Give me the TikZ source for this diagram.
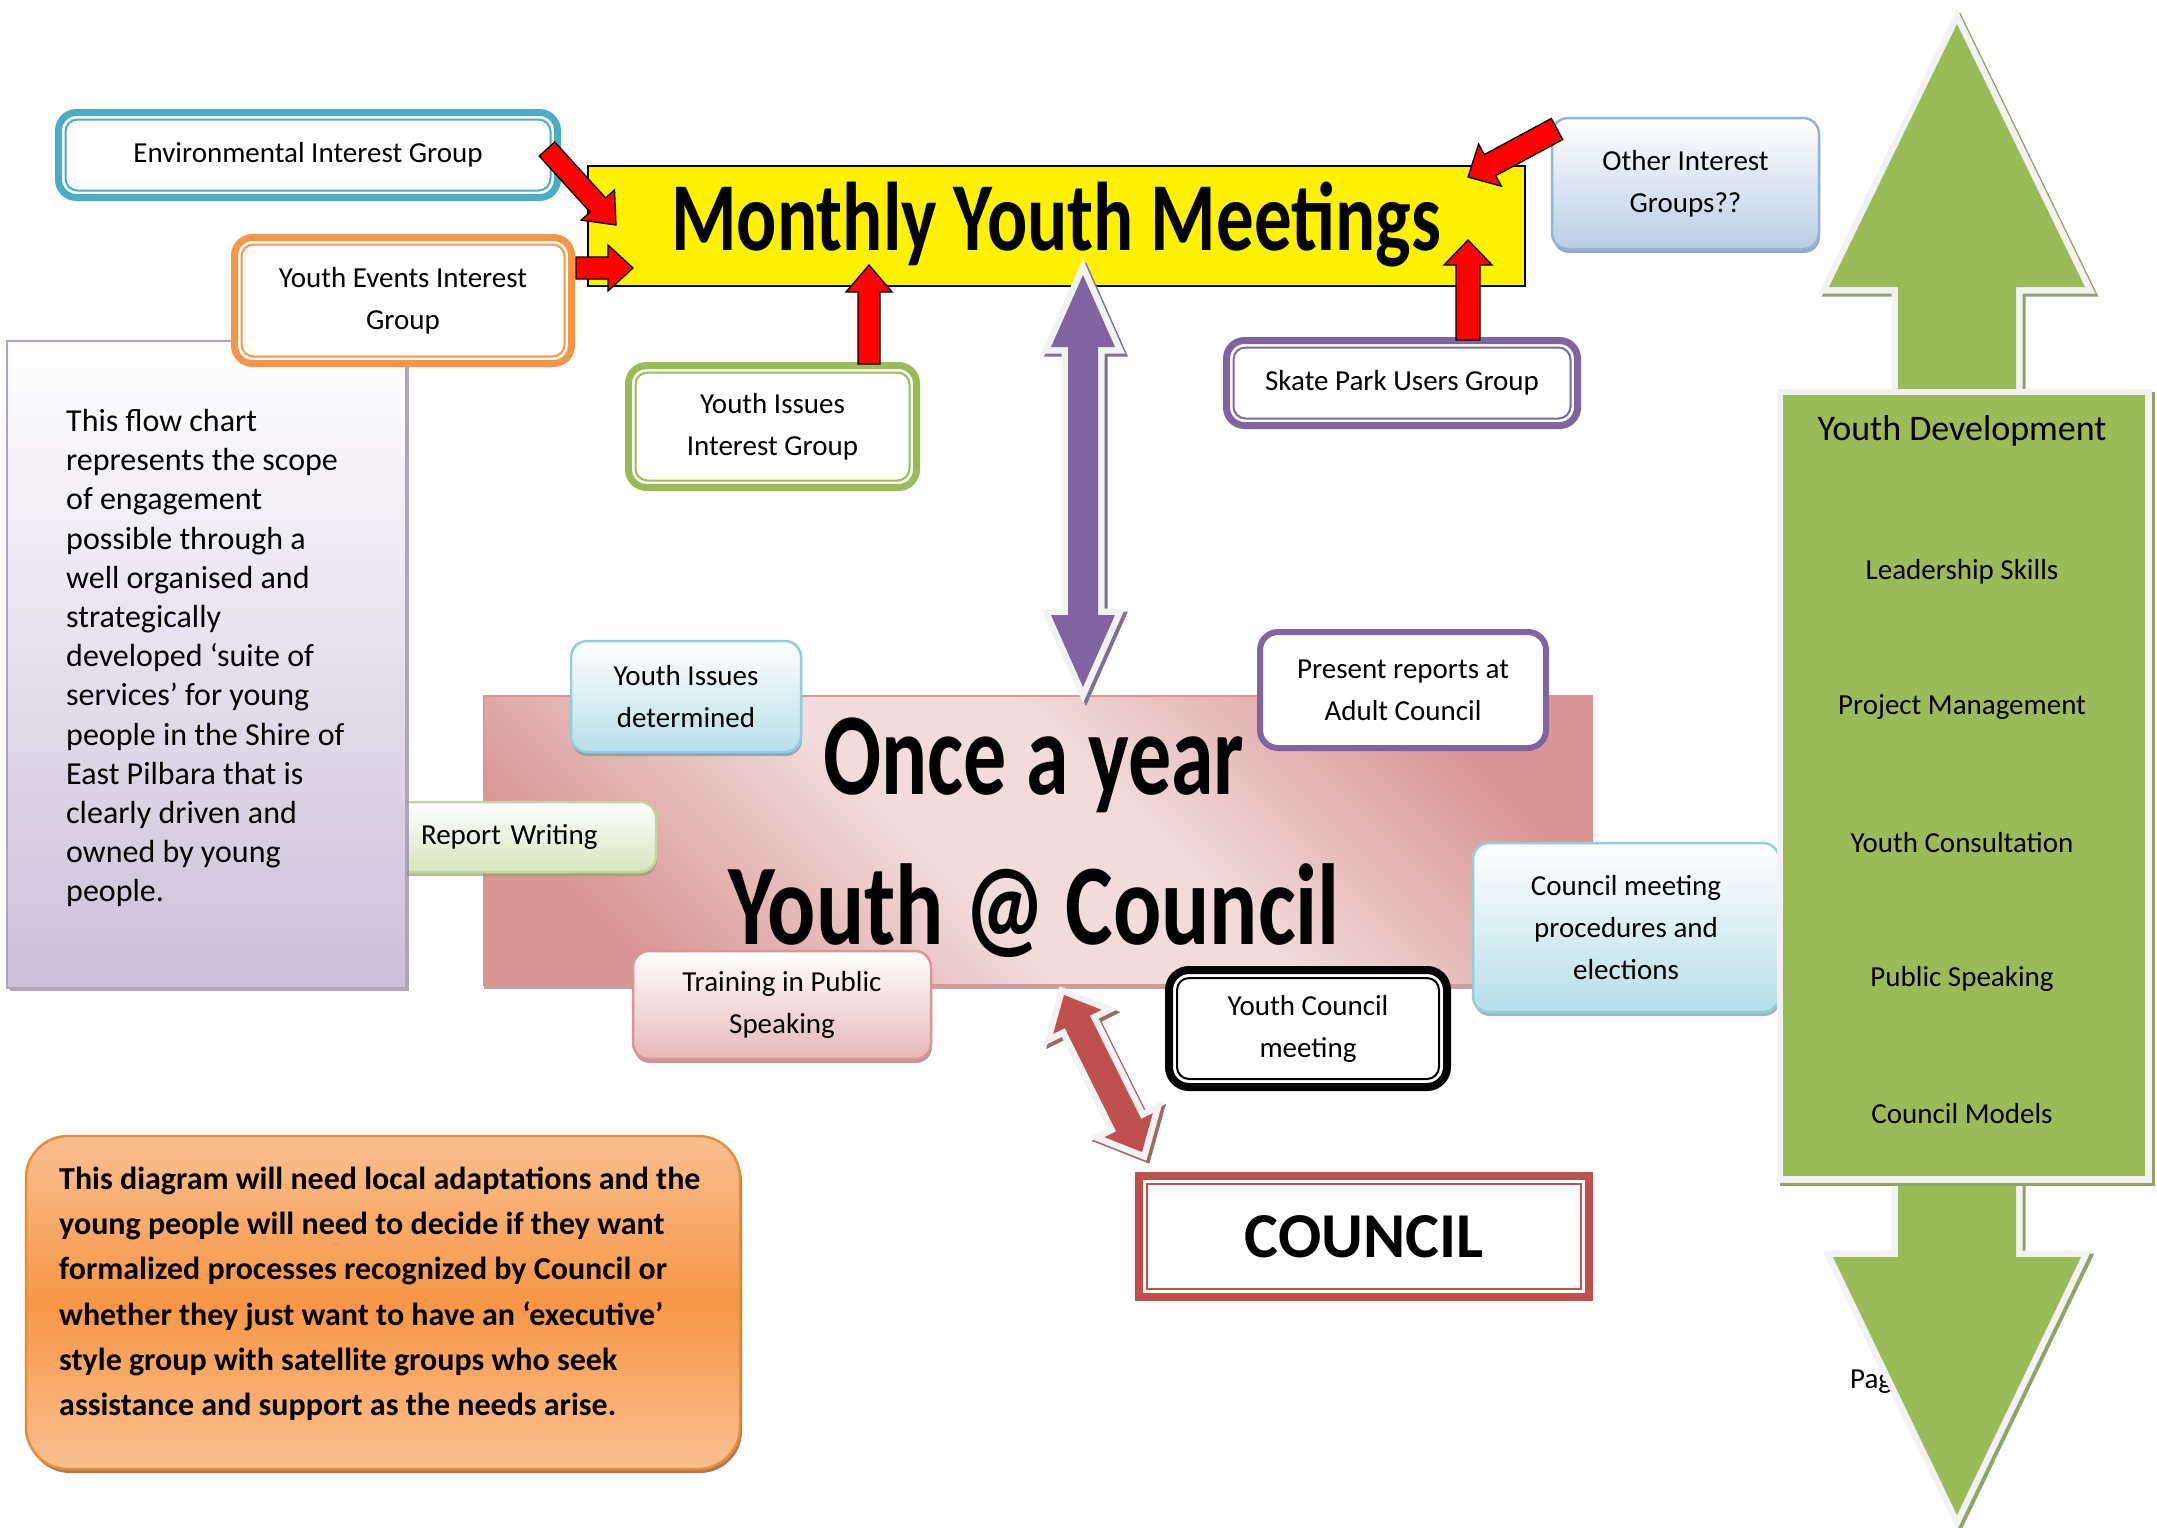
\documentclass[tikz,border=0pt]{standalone}
\usepackage{fontspec}
\setmainfont{Carlito}
\usetikzlibrary{calc,shadows}

\definecolor{envblue}{HTML}{4BACC6}
\definecolor{evorange}{HTML}{F79646}
\definecolor{issgreen}{HTML}{9BBB59}
\definecolor{skpurple}{HTML}{8064A2}
\definecolor{otherEdge}{HTML}{95B3D7}
\definecolor{otherFill}{HTML}{B9CDE5}
\definecolor{aquaEdge}{HTML}{92CDDC}
\definecolor{aquaFill}{HTML}{B7DEE8}
\definecolor{limeEdge}{HTML}{C3D69B}
\definecolor{limeFill}{HTML}{D7E4BD}
\definecolor{roseEdge}{HTML}{D99694}
\definecolor{roseFill}{HTML}{E6B9B8}
\definecolor{lilacEdge}{HTML}{B2A1C7}
\definecolor{lilacFill}{HTML}{CCC0DA}
\definecolor{pinkLight}{HTML}{F2DCDB}
\definecolor{pinkDark}{HTML}{D99694}
\definecolor{councilRed}{HTML}{C0504D}
\definecolor{noteLight}{HTML}{FAC090}
\definecolor{noteDark}{HTML}{F79646}
\definecolor{noteEdge}{HTML}{E98B3C}
\definecolor{outlineGrey}{HTML}{F2F2F2}
\definecolor{devGreen}{HTML}{9BBB59}

\pgfdeclarehorizontalshading{pinkband}{100bp}{color(0bp)=(pinkDark); color(24bp)=(pinkDark); color(44bp)=(pinkLight); color(56bp)=(pinkLight); color(76bp)=(pinkDark); color(100bp)=(pinkDark)}

% single block arrow: style, tail, tip, shaft half width, head half width, head length
\newcommand\blockarrow[6]{%
  \coordinate (ba-h) at ($(#3)!#6!(#2)$);
  \path[#1] ($(#2)!#4!90:(#3)$) -- ($(ba-h)!#4!90:(#3)$) -- ($(ba-h)!#5!90:(#3)$)
    -- (#3) -- ($(ba-h)!#5!-90:(#3)$) -- ($(ba-h)!#4!-90:(#3)$) -- ($(#2)!#4!-90:(#3)$) -- cycle;
}
% double block arrow: style, tip A, tip B, shaft half width, head half width, head length
\newcommand\dblarrow[6]{%
  \coordinate (da-a) at ($(#2)!#6!(#3)$);
  \coordinate (da-b) at ($(#3)!#6!(#2)$);
  \path[#1] (#2) -- ($(da-a)!#5!90:(#3)$) -- ($(da-a)!#4!90:(#3)$) -- ($(da-b)!#4!-90:(#2)$)
    -- ($(da-b)!#5!-90:(#2)$) -- (#3) -- ($(da-b)!#5!90:(#2)$) -- ($(da-b)!#4!90:(#2)$)
    -- ($(da-a)!#4!-90:(#3)$) -- ($(da-a)!#5!-90:(#3)$) -- cycle;
}
% thin inner line of a thick-thin frame
\newcommand\innerring[4]{%
  \draw[#2, line width=2pt, rounded corners=#3] ([shift={(#4,#4)}]#1.north west) rectangle ([shift={(-#4,-#4)}]#1.south east);
}

\tikzset{
  base/.style={font=\fontsize{29}{42}\selectfont, align=center, inner sep=0pt, outer sep=0pt},
  ringbox/.style={base, draw=#1, line width=7pt, rounded corners=18pt, fill=white},
  softbox/.style 2 args={base, draw=#1, line width=2.5pt, rounded corners=16pt,
    top color=white, bottom color=#2,
    drop shadow={shadow xshift=1pt, shadow yshift=-4pt, fill=#1!75!black, opacity=.7}},
  redarrow/.style={fill=red, draw=black, line width=1.3pt, line join=miter},
  bigarrow/.style 2 args={fill=#1,
    preaction={fill=#2, draw=#2, line width=13pt, transform canvas={shift={(3pt,-3pt)}}},
    preaction={fill=outlineGrey, draw=outlineGrey, line width=13pt}},
  funky/.style={font=\fontsize{#1}{#1}\selectfont\bfseries, inner sep=0pt},
  devitem/.style={font=\fontsize{29}{34}\selectfont, inner sep=0pt},
}

\begin{document}
\begin{tikzpicture}[x=1pt,y=-1pt]
\useasboundingbox (0,0) rectangle (2157,1527);

% ---- yearly meeting panel
\node[draw=pinkDark, line width=2pt, shading=pinkband, shading angle=45,
  minimum width=1108pt, minimum height=289pt, inner sep=0pt, outer sep=0pt,
  drop shadow={shadow xshift=0pt, shadow yshift=-4pt, fill=pinkDark!70!black, opacity=.6}]
  (yearly) at (1038,840.5) {};
\node[funky=86] (onceText) at (1034,765) {\scalebox{1}[1.36]{Once a year}};
\node[funky=90] (youthAt) at (1034,911) {\scalebox{1}[1.28]{Youth @ Council}};

% ---- scope description panel
\node[softbox={limeEdge}{limeFill}, minimum width=266pt, minimum height=70pt,
  text width=204pt, inner xsep=31pt, align=left] (report) at (523,837) {Report Writing};
\node[draw=lilacEdge, line width=2.5pt, top color=white, bottom color=lilacFill,
  minimum width=399pt, minimum height=647pt, inner sep=0pt, outer sep=0pt,
  drop shadow={shadow xshift=3pt, shadow yshift=-3pt, fill=lilacEdge!80!black, opacity=.7}]
  (scopebox) at (206.5,664.5) {};
\node[anchor=north west, inner sep=0pt, align=left, font=\fontsize{32}{39.2}\selectfont]
  (scopetext) at (66,409) {This flow chart\\represents the scope\\of engagement\\possible through a\\well organised and\\strategically\\developed ‘suite of\\services’ for young\\people in the Shire of\\East Pilbara that is\\clearly driven and\\owned by young\\people.};

% ---- interest groups
\node[ringbox=envblue, minimum width=499pt, minimum height=85pt] (env) at (308,155) {Environmental Interest Group};
\innerring{env}{envblue}{12pt}{7}
\node[ringbox=evorange, minimum width=337pt, minimum height=126pt] (events) at (403,300.5) {Youth Events Interest\\Group};
\innerring{events}{evorange}{12pt}{7}
\node[ringbox=issgreen, minimum width=288pt, minimum height=122pt] (issues) at (772.5,426.5) {Youth Issues\\Interest Group};
\innerring{issues}{issgreen}{12pt}{7}
\node[ringbox=skpurple, minimum width=351pt, minimum height=85pt] (skate) at (1402,383) {Skate Park Users Group};
\innerring{skate}{skpurple}{12pt}{7}
\node[softbox={otherEdge}{otherFill}, minimum width=267pt, minimum height=131pt] (other) at (1685.5,183.5) {Other Interest\\Groups??};

% ---- monthly meetings banner
\node[draw=black, line width=1.5pt, fill=yellow, minimum width=937pt, minimum height=120pt, inner sep=0pt]
  (monthly) at (1056.5,226) {};
\node[funky=75] (monthlyText) at (1056,224) {\scalebox{1}[1.3]{Monthly Youth Meetings}};

% ---- feeder arrows into the banner
\coordinate (envTail) at (547,149);   \coordinate (envTip) at (616,225);
\coordinate (evTail) at (576,268);    \coordinate (evTip) at (633,268);
\coordinate (issTail) at (869,364);   \coordinate (issTip) at (869,265);
\coordinate (skTail) at (1468,340);   \coordinate (skTip) at (1468,240);
\coordinate (otTail) at (1557,129);   \coordinate (otTip) at (1468,177);
\blockarrow{redarrow}{envTail}{envTip}{10.5pt}{22.5pt}{27pt}
\blockarrow{redarrow}{evTail}{evTip}{11pt}{23pt}{25pt}
\blockarrow{redarrow}{issTail}{issTip}{11pt}{23pt}{27pt}
\blockarrow{redarrow}{skTail}{skTip}{12pt}{24pt}{25pt}
\blockarrow{redarrow}{otTail}{otTip}{12pt}{24pt}{25pt}

% ---- link between monthly and yearly meetings
\coordinate (purpTop) at (1083,275);
\coordinate (purpBot) at (1083,687);
\dblarrow{bigarrow={skpurple}{skpurple!55!gray}}{purpTop}{purpBot}{15pt}{32pt}{72pt}

% ---- yearly meeting activities
\node[softbox={aquaEdge}{aquaFill}, minimum width=230pt, minimum height=111pt] (determined) at (686,696.5) {Youth Issues\\determined};
\node[base, draw=skpurple, line width=6pt, rounded corners=18pt, fill=white, minimum width=286pt, minimum height=116pt] (present) at (1403,690) {Present reports at\\Adult Council};
\node[softbox={roseEdge}{roseFill}, minimum width=298pt, minimum height=108pt] (training) at (782,1005) {Training in Public\\Speaking};
\node[softbox={aquaEdge}{aquaFill}, minimum width=306pt, minimum height=169pt] (procedures) at (1626,927.5) {Council meeting\\procedures and\\elections};
\node[base, draw=black, line width=8pt, rounded corners=20pt, fill=white, minimum width=278pt, minimum height=117pt] (ycm) at (1308,1028.5) {Youth Council\\meeting};
\innerring{ycm}{black}{12pt}{8}

% ---- council
\node[base, draw=councilRed, line width=8pt, fill=white, minimum width=450pt, minimum height=121pt,
  font=\fontsize{64}{64}\selectfont\bfseries] (council) at (1364,1236.5) {COUNCIL};
\innerring{council}{councilRed}{0pt}{8}
\coordinate (redTop) at (1064,995);
\coordinate (redBot) at (1142,1152);
\dblarrow{bigarrow={councilRed}{councilRed!45!gray}}{redTop}{redBot}{14pt}{27pt}{30pt}

% ---- note
\node[draw=noteEdge, line width=2.5pt, rounded corners=42pt, top color=noteLight, bottom color=noteLight,
  middle color=noteDark, minimum width=714pt, minimum height=333pt, inner sep=0pt, outer sep=0pt,
  drop shadow={shadow xshift=2pt, shadow yshift=-4pt, fill=noteDark!60!black, opacity=.8}]
  (note) at (383,1302.5) {};
\node[anchor=north west, inner sep=0pt, align=left, font=\fontsize{32}{45.1}\selectfont\bfseries]
  (notetext) at (59,1167) {This diagram will need local adaptations and the\\young people will need to decide if they want\\formalized processes recognized by Council or\\whether they just want to have an ‘executive’\\style group with satellite groups who seek\\assistance and support as the needs arise.};

% ---- youth development column
\node[anchor=base west, inner sep=0pt, font=\fontsize{29}{34}\selectfont] (pageNo) at (1850,1388) {Page};
\path[bigarrow={devGreen}{devGreen!60!gray}] (1957,24) -- (2085,287) -- (2016,287) -- (2016,1257) -- (2081,1257)
  -- (1957,1515) -- (1833,1257) -- (1898,1257) -- (1898,287) -- (1829,287) -- cycle;
\path[bigarrow={devGreen}{devGreen!60!gray}] (1783,395) rectangle (2145,1176);
\node[font=\fontsize{36}{40}\selectfont, inner sep=0pt] (devTitle) at (1962,431) {Youth Development};
\node[devitem] (dev1) at (1962,572) {Leadership Skills};
\node[devitem] (dev2) at (1962,707) {Project Management};
\node[devitem] (dev3) at (1962,843) {Youth Consultation};
\node[devitem] (dev4) at (1962,979) {Public Speaking};
\node[devitem] (dev5) at (1962,1114) {Council Models};
\end{tikzpicture}
\end{document}
